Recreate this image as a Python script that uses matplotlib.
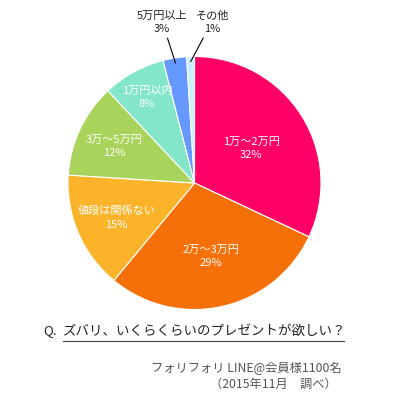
import numpy as np
import matplotlib
matplotlib.use("Agg")
import matplotlib.pyplot as plt

plt.rcParams['font.family'] = ['Noto Sans CJK JP', 'DejaVu Sans']

categories = ["1万～2万円", "2万～3万円", "値段は関係ない", "3万～5万円", "1万円以内", "5万円以上", "その他"]
values = [32, 29, 15, 12, 8, 3, 1]
colors = ["#FF0066", "#F6700A", "#FBB42A", "#A9D45B", "#84E6C8", "#6699FF", "#C8F0FF"]
label_radius = [0.53, 0.59, 0.67, 0.70, 0.78, None, None]
outside_pos = {5: (-0.257, 1.28), 6: (0.14, 1.28)}

W, H = 394, 402
fig = plt.figure(figsize=(W / 100, H / 100), dpi=100)
cx, cy, R = 194.5, 184, 126.5
ax = fig.add_axes([(cx - R) / W, (H - cy - R) / H, 2 * R / W, 2 * R / H])
wedges, _ = ax.pie(values, colors=colors, startangle=90, counterclock=False,
                   radius=1, wedgeprops=dict(edgecolor="white", linewidth=0.8))
ax.set_xlim(-1, 1)
ax.set_ylim(-1, 1)
ax.set_aspect('equal')
ax.axis('off')

for i, (w, cat, v) in enumerate(zip(wedges, categories, values)):
    mid = np.deg2rad((w.theta1 + w.theta2) / 2)
    txt = f"{cat}\n{v}%"
    if label_radius[i] is not None:
        r = label_radius[i]
        ax.text(r * np.cos(mid), r * np.sin(mid), txt, ha='center', va='center',
                color='white', fontsize=8, linespacing=1.4)
    else:
        tx, ty = outside_pos[i]
        ax.annotate(txt, xy=(0.96 * np.cos(mid), 0.96 * np.sin(mid)),
                    xytext=(tx, ty), ha='center', va='center', fontsize=8,
                    color='#222222', linespacing=1.4, annotation_clip=False,
                    arrowprops=dict(arrowstyle='-', color='black', lw=0.8,
                                    shrinkA=2, shrinkB=0))

fig.text(43 / W, 1 - 331 / H, "Q.", fontsize=9.5, color='#222222', va='center', ha='left')
fig.text(63 / W, 1 - 331 / H, "ズバリ、いくらくらいのプレゼントが欲しい？", fontsize=9.7,
         color='#222222', va='center', ha='left')
fig.add_artist(plt.Line2D([63 / W, 344 / W], [1 - 342 / H, 1 - 342 / H],
                          color='#444444', lw=0.8, transform=fig.transFigure))
fig.text(342 / W, 1 - 368 / H, "フォリフォリ LINE@会員様1100名", fontsize=8.8,
         color='#555555', va='center', ha='right')
fig.text(337 / W, 1 - 384 / H, "（2015年11月　調べ）", fontsize=8.8,
         color='#555555', va='center', ha='right')

fig.savefig("out.png", dpi=100, facecolor='white')
